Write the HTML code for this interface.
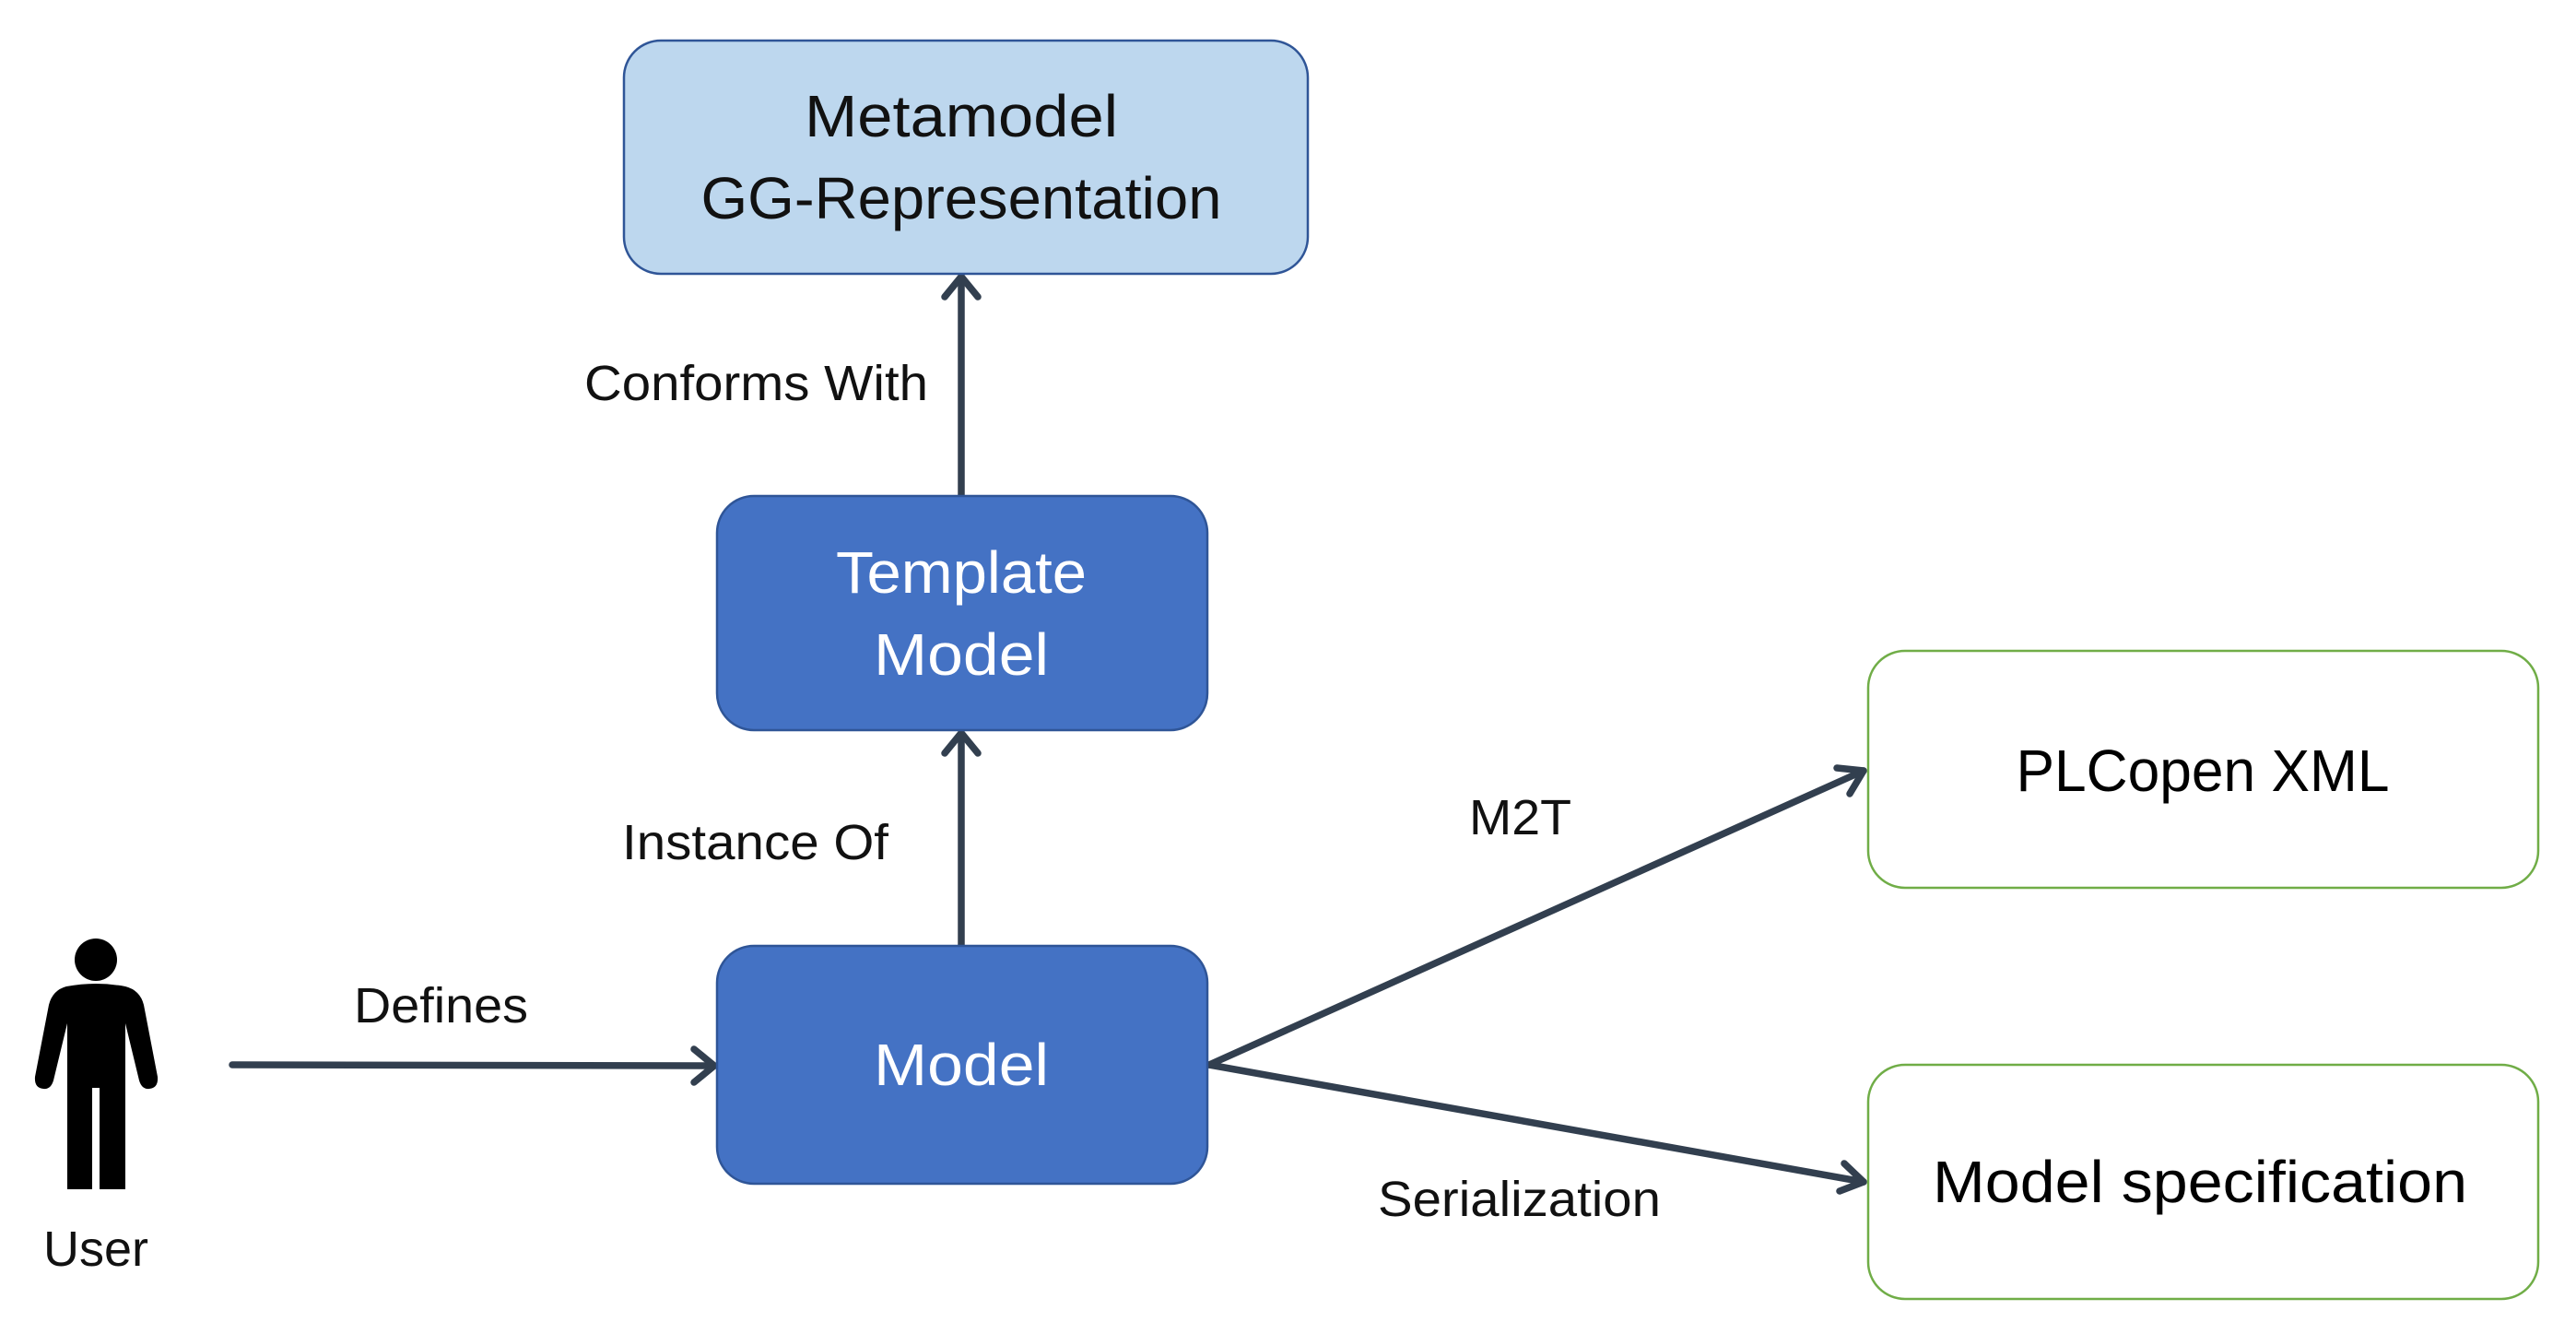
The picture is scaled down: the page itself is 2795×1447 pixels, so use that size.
<!DOCTYPE html>
<html><head><meta charset="utf-8"><style>
html,body{margin:0;padding:0;background:#fff;width:2795px;height:1447px;overflow:hidden}
svg{display:block}
text{font-family:"Liberation Sans",sans-serif}
</style></head><body>
<svg width="2795" height="1447" viewBox="0 0 2795 1447" xmlns="http://www.w3.org/2000/svg">
<g stroke="#323f4f" stroke-width="7.5" fill="none" stroke-linecap="round" stroke-linejoin="round">
<line x1="1043" y1="538" x2="1043" y2="300"/>
<polyline points="1025,322 1043,300 1061,322"/>
<line x1="1043" y1="1026" x2="1043" y2="795"/>
<polyline points="1025,817 1043,795 1061,817"/>
<line x1="252" y1="1155" x2="775" y2="1156"/>
<polyline points="753,1138 775,1156 753,1174"/>
<line x1="1312" y1="1155" x2="2022" y2="836"/>
<polyline points="1993,833 2022,836 2007,861"/>
<line x1="1312" y1="1155" x2="2022" y2="1282"/>
<polyline points="2001,1262 2022,1282 1996,1292"/>
</g>
<rect x="677" y="44" width="742" height="253" rx="40" fill="#bdd7ee" stroke="#2f5597" stroke-width="2.5"/>
<rect x="778" y="538" width="532" height="254" rx="40" fill="#4472c4" stroke="#2f5597" stroke-width="2.5"/>
<rect x="778" y="1026" width="532" height="258" rx="40" fill="#4472c4" stroke="#2f5597" stroke-width="2.5"/>
<rect x="2027" y="706" width="727" height="257" rx="40" fill="#fff" stroke="#70ad47" stroke-width="2.5"/>
<rect x="2027" y="1155" width="727" height="254" rx="40" fill="#fff" stroke="#70ad47" stroke-width="2.5"/>
<g font-size="64" text-anchor="middle">
<text x="1043" y="148" fill="#111" textLength="340" lengthAdjust="spacingAndGlyphs">Metamodel</text>
<text x="1043" y="237" fill="#111" textLength="565" lengthAdjust="spacingAndGlyphs">GG-Representation</text>
<text x="1043" y="643" fill="#fff" textLength="272" lengthAdjust="spacingAndGlyphs">Template</text>
<text x="1043" y="732" fill="#fff" textLength="190" lengthAdjust="spacingAndGlyphs">Model</text>
<text x="1043" y="1177" fill="#fff" textLength="190" lengthAdjust="spacingAndGlyphs">Model</text>
<text x="2390" y="858" fill="#000" textLength="405" lengthAdjust="spacingAndGlyphs">PLCopen XML</text>
<text x="2387" y="1304" fill="#000" textLength="580" lengthAdjust="spacingAndGlyphs">Model specification</text>
</g>
<g font-size="54" fill="#111">
<text x="634" y="434" textLength="373" lengthAdjust="spacingAndGlyphs">Conforms With</text>
<text x="675" y="932" textLength="289" lengthAdjust="spacingAndGlyphs">Instance Of</text>
<text x="384" y="1109" textLength="189" lengthAdjust="spacingAndGlyphs">Defines</text>
<text x="1594" y="905" textLength="111" lengthAdjust="spacingAndGlyphs">M2T</text>
<text x="1495" y="1319" textLength="307" lengthAdjust="spacingAndGlyphs">Serialization</text>
<text x="104" y="1373" text-anchor="middle">User</text>
</g>
<g fill="#000">
<circle cx="104" cy="1041" r="23"/>
<path d="M72,1070 Q104,1064 136,1070 Q152,1074 156,1090 L171,1168 Q172,1180 162,1181 Q154,1182 151,1172 L136,1110 L136,1290 L108,1290 L108,1180 L100,1180 L100,1290 L73,1290 L73,1110 L58,1172 Q55,1182 47,1181 Q37,1180 38,1168 L53,1090 Q57,1074 72,1070 Z"/>
</g>
</svg>
</body></html>
